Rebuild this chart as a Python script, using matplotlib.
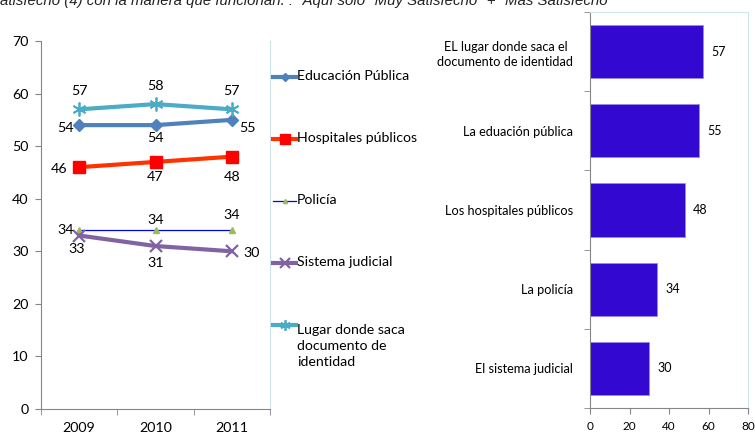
import matplotlib.pyplot as plt
from matplotlib.lines import Line2D

plt.rcParams['font.family'] = ['Lato', 'DejaVu Sans']

# datos
years = ['2009', '2010', '2011']
educacion = [54, 54, 55]
hospitales = [46, 47, 48]
policia = [34, 34, 34]
judicial = [33, 31, 30]
documento = [57, 58, 57]

bar_labels = ['EL lugar donde saca el\ndocumento de identidad', 'La eduación pública',
              'Los hospitales públicos', 'La policía', 'El sistema judicial']
bar_values = [57, 55, 48, 34, 30]

frame = '#CFE3EA'
axis_gray = '#868686'

fig = plt.figure(figsize=(7.55, 4.34), dpi=100)

fig.text(0.0, 1 - 4.5 / 434,
         'atisfecho (4) con la manera que funcionan. : "Aquí solo "Muy Satisfecho" + "Más Satisfecho"',
         family=['Liberation Sans'], style='italic', fontsize=10.8, va='baseline', ha='left',
         color='#222222')

# ---- grafico de lineas ----
ax = fig.add_axes([41 / 755, 25 / 434, 229 / 755, 368 / 434])
x = range(len(years))

series = [
    ('Educación Pública', educacion, dict(color='#4F81BD', lw=3, marker='D', ms=6)),
    ('Hospitales públicos', hospitales, dict(color='#FF3300', lw=3, marker='s', ms=9,
                                             mfc='#FF0000', mec='#FF0000')),
    ('Policía', policia, dict(color='#0000FF', lw=0.9, marker='^', ms=4,
                              mfc='#9BBB59', mec='#9BBB59')),
    ('Sistema judicial', judicial, dict(color='#8064A2', lw=3, marker='x', ms=9, mew=1.6)),
    ('Lugar donde saca\ndocumento de\nidentidad', documento,
     dict(color='#4BACC6', lw=3, marker=(6, 2, 0), ms=10, mew=1.3)),
]
for name, vals, kw in series:
    ax.plot(x, vals, **kw)

# etiquetas de datos (desplazamiento en puntos)
offsets = {
    'educacion': [(-10, -2), (0, -9), (11, -6)],
    'hospitales': [(-14.5, -1), (0, -11), (0, -15)],
    'policia': [(-10, 0), (0, 7.5), (0, 11)],
    'judicial': [(-2, -10), (0, -12), (14, -1)],
    'documento': [(0, 13), (0, 13), (0, 13)],
}
for key, vals in [('educacion', educacion), ('hospitales', hospitales), ('policia', policia),
                  ('judicial', judicial), ('documento', documento)]:
    for i, v in enumerate(vals):
        dx, dy = offsets[key][i]
        ax.annotate(str(v), (i, v), xytext=(dx, dy), textcoords='offset points',
                    ha='center', va='center', fontsize=10.3)

ax.set_xlim(-0.5, 2.5)
ax.set_ylim(0, 70)
ax.set_yticks(range(0, 71, 10))
ax.set_xticks(x)
ax.set_xticklabels(years)
ax.set_xticks([-0.5, 0.5, 1.5, 2.5], minor=True)
ax.tick_params(axis='x', which='major', length=0, pad=9, labelsize=10.3)
ax.tick_params(axis='x', which='minor', length=4, color=axis_gray)
ax.tick_params(axis='y', length=4, color=axis_gray, labelsize=10.3, pad=5)
ax.spines['left'].set_color(axis_gray)
ax.spines['bottom'].set_color(axis_gray)
ax.spines['top'].set_visible(False)
ax.spines['right'].set_color(frame)

# leyenda
for k, (name, vals, kw) in enumerate(series):
    y = 1 - (77 + 62 * k) / 434
    hkw = dict(kw)
    hkw['ms'] = hkw['ms'] * 0.75
    fig.add_artist(Line2D([273 / 755, 284.5 / 755, 296 / 755], [y, y, y], markevery=[1],
                          transform=fig.transFigure, **hkw))
    fig.text(297 / 755, y + 1 / 434, name, fontsize=10.2,
             va='top' if '\n' in name else 'center', ha='left', linespacing=1.4)

# ---- grafico de barras ----
bx = fig.add_axes([590 / 755, 26 / 434, 158 / 755, 396 / 434])
pos = list(range(len(bar_values)))[::-1]
bars = bx.barh(pos, bar_values, height=0.67, color='#3308D0', edgecolor='#9A8BE8', lw=0.6)
for p, v in zip(pos, bar_values):
    bx.text(v + 4.2, p, str(v), va='center', ha='left', fontsize=9)

bx.set_xlim(0, 80)
bx.set_ylim(-0.5, 4.5)
bx.set_xticks(range(0, 81, 20))
bx.set_yticks(pos)
bx.set_yticklabels(bar_labels, multialignment='center', fontsize=9.2, linespacing=1.35)
bx.set_yticks([-0.5, 0.5, 1.5, 2.5, 3.5, 4.5], minor=True)
bx.tick_params(axis='y', which='major', length=0, pad=12)
bx.tick_params(axis='y', which='minor', length=4, color=axis_gray)
bx.tick_params(axis='x', length=4, color=axis_gray, labelsize=8.5, pad=5)
bx.spines['left'].set_color(axis_gray)
bx.spines['bottom'].set_color(axis_gray)
bx.spines['top'].set_color(frame)
bx.spines['right'].set_color(frame)

fig.savefig('out.png', dpi=100)
